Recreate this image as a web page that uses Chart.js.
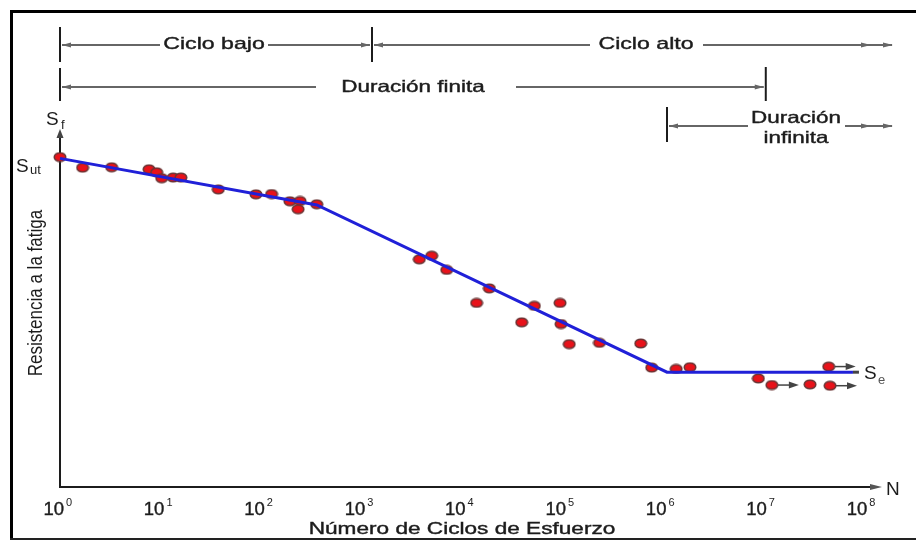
<!DOCTYPE html>
<html>
<head>
<meta charset="utf-8">
<script src="https://cdn.jsdelivr.net/npm/chart.js@4.4.1/dist/chart.umd.min.js"></script>
<style>
  html, body { margin: 0; padding: 0; background: #fff; }
  #wrap { width: 916px; height: 541px; position: relative; }
</style>
</head>
<body>
<div id="wrap"><canvas id="sn" width="916" height="541"></canvas></div>
<script>
// cycles to failure and fatigue strength (fraction of Sut)
const cycles = [1, 1.68, 3.27, 7.70, 9.19, 10.3, 13.4, 16.0, 37.7, 89.5, 128, 195, 246, 235, 361,
  3790, 5040, 7110, 14100, 18900, 39700, 53000, 95500, 97700, 118000, 236000, 608000, 782000,
  1370000, 1880000, 9020000, 12300000, 29500000, 46700000, 45300000]
const strength = [1.0, 0.968, 0.969, 0.963, 0.954, 0.936, 0.938, 0.938, 0.902, 0.887, 0.888, 0.866, 0.867, 0.842, 0.857,
  0.690, 0.701, 0.658, 0.558, 0.602, 0.499, 0.549, 0.558, 0.494, 0.433, 0.437, 0.435, 0.362,
  0.358, 0.363, 0.329, 0.309, 0.311, 0.307, 0.365]
// points that did not fail (drawn with an arrow)
const runout = [31, 33, 34]

// fitted S-N curve
const curveN = [1, 361, 1110000, 79000000]
const curveS = [0.996, 0.855, 0.348, 0.348]

// x axis decades
const decades = [0, 1, 2, 3, 4, 5, 6, 7, 8]
// range brackets on top: 10^0, 10^3, 10^6, 10^7
const bracketN = [1, 1280, 1110000, 10700000]

const FONT = '"Liberation Sans", Arial, sans-serif'
const INK = '#1c1c1c'

function dot() {
  const c = document.createElement('canvas')
  c.width = 14; c.height = 11
  const g = c.getContext('2d')
  g.beginPath()
  g.ellipse(7, 5.5, 5.8, 4.3, 0, 0, Math.PI * 2)
  g.fillStyle = '#e8121a'
  g.fill()
  g.lineWidth = 1.5
  g.strokeStyle = '#6a3434'
  g.stroke()
  return c
}

function wideText(ctx, text, cx, cy, size, sx) {
  ctx.save()
  ctx.translate(cx, cy)
  ctx.scale(sx, 1)
  ctx.font = size + 'px ' + FONT
  ctx.textAlign = 'center'
  ctx.textBaseline = 'middle'
  ctx.fillStyle = INK
  ctx.strokeStyle = INK
  ctx.lineWidth = 0.4
  ctx.fillText(text, 0, 0)
  ctx.strokeText(text, 0, 0)
  ctx.restore()
}

function head(ctx, x, y, dir, len, half, color) {
  ctx.beginPath()
  ctx.moveTo(x, y)
  ctx.lineTo(x - dir * len, y - half)
  ctx.lineTo(x - dir * len, y + half)
  ctx.closePath()
  ctx.fillStyle = color
  ctx.fill()
}

function hline(ctx, x1, x2, y) {
  ctx.beginPath()
  ctx.moveTo(x1, y)
  ctx.lineTo(x2, y)
  ctx.strokeStyle = '#333'
  ctx.lineWidth = 1.5
  ctx.stroke()
}

function vline(ctx, x, y1, y2) {
  ctx.beginPath()
  ctx.moveTo(x, y1)
  ctx.lineTo(x, y2)
  ctx.strokeStyle = INK
  ctx.lineWidth = 2
  ctx.stroke()
}

const axesPlugin = {
  id: 'axes',
  beforeDatasetsDraw(chart) {
    const ctx = chart.ctx
    const a = chart.chartArea
    ctx.save()
    // frame
    ctx.fillStyle = '#000'
    ctx.fillRect(10, 10, 906, 3)
    ctx.fillRect(10, 10, 3, 530)
    ctx.fillStyle = '#222'
    ctx.fillRect(10, 538, 906, 2)

    // axes
    ctx.strokeStyle = INK
    ctx.lineWidth = 2
    ctx.beginPath()
    ctx.moveTo(a.left, a.bottom)
    ctx.lineTo(a.left, a.top + 4)
    ctx.moveTo(a.left - 1, a.bottom)
    ctx.lineTo(a.right - 4, a.bottom)
    ctx.stroke()
    ctx.save()
    ctx.translate(a.left, a.top - 3)
    ctx.rotate(-Math.PI / 2)
    head(ctx, 0, 0, 1, 9, 3.5, '#444')
    ctx.restore()
    head(ctx, a.right + 2, a.bottom, 1, 12, 3, '#555')
    ctx.restore()
  },
  afterDraw(chart) {
    const ctx = chart.ctx
    const x = chart.scales.x
    ctx.save()

    // tick labels 10^n
    ctx.fillStyle = INK
    ctx.strokeStyle = INK
    ctx.lineWidth = 0.4
    ctx.textBaseline = 'alphabetic'
    decades.forEach(d => {
      const px = x.getPixelForValue(Math.pow(10, d)) - 3
      ctx.font = '18.5px ' + FONT
      ctx.textAlign = 'right'
      ctx.fillText('10', px + 7, 515)
      ctx.strokeText('10', px + 7, 515)
      ctx.font = '11px ' + FONT
      ctx.textAlign = 'left'
      ctx.fillText(String(d), px + 9, 506)
    })

    // axis titles
    wideText(ctx, 'Número de Ciclos de Esfuerzo', 462, 529, 16.5, 1.37)
    ctx.save()
    ctx.translate(37, 293)
    ctx.scale(1.15, 1)
    ctx.rotate(-Math.PI / 2)
    ctx.font = '17px ' + FONT
    ctx.textAlign = 'center'
    ctx.textBaseline = 'middle'
    ctx.fillStyle = INK
    ctx.fillText('Resistencia a la fatiga', 0, 0)
    ctx.restore()

    // S labels and N
    ctx.fillStyle = INK
    ctx.textAlign = 'left'
    ctx.font = '19px ' + FONT
    ctx.fillText('S', 46, 125)
    ctx.fillText('S', 16, 172)
    ctx.fillText('S', 864, 379)
    ctx.fillText('N', 886, 495)
    ctx.font = '13px ' + FONT
    ctx.fillText('f', 61, 129)
    ctx.fillText('ut', 30, 174)
    ctx.fillStyle = '#555'
    ctx.fillText('e', 878, 384)

    // range brackets
    const bx = bracketN.map(n => x.getPixelForValue(n))
    const g = '#666'
    // row 1: ciclo bajo / ciclo alto
    vline(ctx, bx[0], 27, 62)
    vline(ctx, bx[1], 27, 62)
    hline(ctx, bx[0] + 2, 160, 45)
    head(ctx, bx[0] + 2, 45, -1, 9, 2.5, g)
    hline(ctx, 268, bx[1] - 2, 45)
    head(ctx, bx[1] - 2, 45, 1, 9, 2.5, g)
    hline(ctx, bx[1] + 2, 590, 45)
    head(ctx, bx[1] + 2, 45, -1, 9, 2.5, g)
    hline(ctx, 703, 892, 45)
    head(ctx, 871, 45, 1, 10, 2.5, g)
    head(ctx, 893, 45, 1, 10, 2.5, g)
    wideText(ctx, 'Ciclo bajo', 214, 44, 17, 1.36)
    wideText(ctx, 'Ciclo alto', 646, 44, 17, 1.36)

    // row 2: duracion finita
    vline(ctx, bx[0], 68, 101)
    vline(ctx, bx[3], 67, 101)
    hline(ctx, bx[0] + 2, 316, 87)
    head(ctx, bx[0] + 2, 87, -1, 9, 2.5, g)
    hline(ctx, 516, bx[3] - 2, 87)
    head(ctx, bx[3] - 2, 87, 1, 9, 2.5, g)
    wideText(ctx, 'Duración finita', 413, 87, 16.5, 1.36)

    // row 3: duracion infinita
    vline(ctx, bx[2], 107, 142)
    hline(ctx, bx[2] + 2, 748, 126)
    head(ctx, bx[2] + 2, 126, -1, 9, 2.5, g)
    hline(ctx, 845, 892, 126)
    head(ctx, 871, 126, 1, 10, 2.5, g)
    head(ctx, 893, 126, 1, 10, 2.5, g)
    wideText(ctx, 'Duración', 796, 118, 16.5, 1.36)
    wideText(ctx, 'infinita', 796, 138, 16.5, 1.36)
    ctx.restore()
  },
  afterDatasetsDraw(chart) {
    const ctx = chart.ctx
    const x = chart.scales.x
    const y = chart.scales.y
    ctx.save()
    // run-out arrows
    runout.forEach(i => {
      const px = x.getPixelForValue(cycles[i])
      const py = y.getPixelForValue(strength[i])
      ctx.beginPath()
      ctx.moveTo(px + 6, py)
      ctx.lineTo(px + 18, py)
      ctx.strokeStyle = '#444'
      ctx.lineWidth = 1.5
      ctx.stroke()
      head(ctx, px + 27, py, 1, 10, 3.5, '#444')
    })
    // end of the endurance line
    const n = curveN.length - 1
    const ex = x.getPixelForValue(curveN[n])
    const ey = y.getPixelForValue(curveS[n])
    ctx.fillStyle = '#444'
    ctx.fillRect(ex, ey - 1.5, 6, 3)
    ctx.restore()
  }
}

new Chart(document.getElementById('sn'), {
  type: 'scatter',
  data: {
    datasets: [
      {
        label: 'curva',
        data: curveN.map((n, i) => ({ x: n, y: curveS[i] })),
        showLine: true,
        borderColor: '#2020d8',
        borderWidth: 3,
        pointRadius: 0,
        clip: false
      },
      {
        label: 'ensayos',
        data: cycles.map((n, i) => ({ x: n, y: strength[i] })),
        pointStyle: dot(),
        pointRadius: 6,
        clip: false
      }
    ]
  },
  options: {
    responsive: false,
    animation: false,
    devicePixelRatio: 1,
    layout: { padding: { left: 60, right: 36, top: 132, bottom: 54 } },
    plugins: { legend: { display: false }, tooltip: { enabled: false } },
    scales: {
      x: { type: 'logarithmic', display: false, min: 1, max: Math.pow(10, 8.167) },
      y: { type: 'linear', display: false, min: 0, max: 1.076 }
    }
  },
  plugins: [axesPlugin]
})
</script>
</body>
</html>
